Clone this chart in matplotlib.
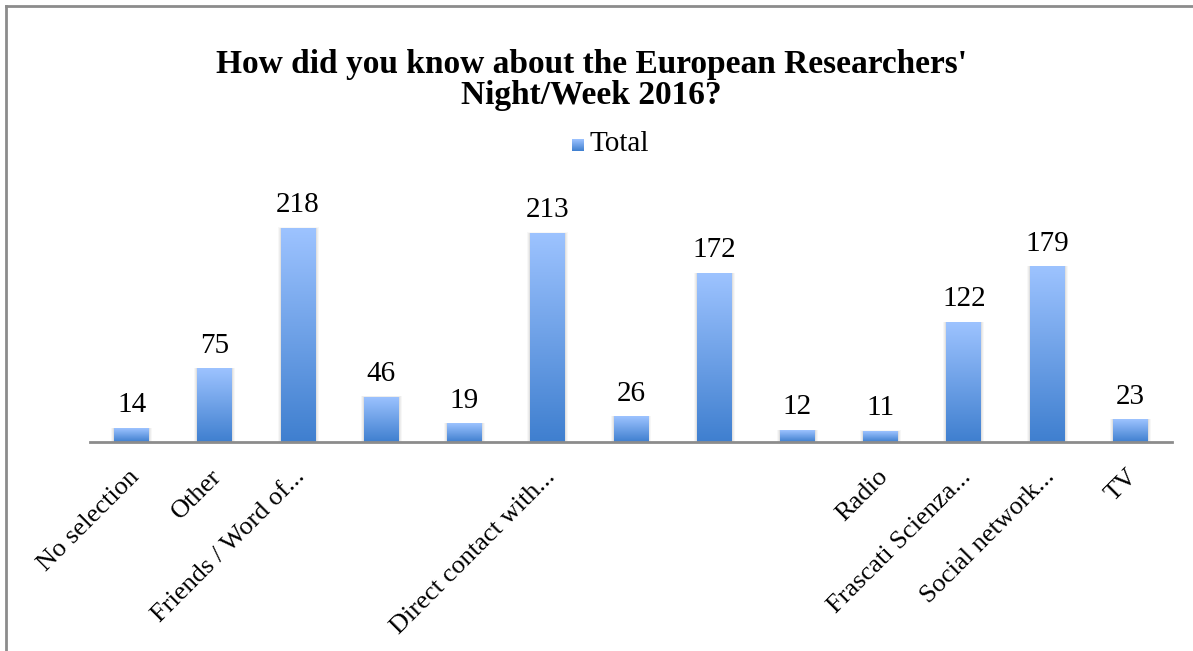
import numpy as np
import matplotlib
matplotlib.use('Agg')
import matplotlib.pyplot as plt
import matplotlib.transforms as mtransforms
from matplotlib.colors import LinearSegmentedColormap
from matplotlib.patches import Rectangle

plt.rcParams['font.family'] = ['Liberation Serif', 'DejaVu Serif']

# Survey answers (only some labels fit on the axis)
categories = ['No selection', 'Other', 'Friends / Word of...', '', '',
              'Direct contact with...', '', '', '', 'Radio',
              'Frascati Scienza...', 'Social network...', 'TV']
totals = [14, 75, 218, 46, 19, 213, 26, 172, 12, 11, 122, 179, 23]

title = "How did you know about the European Researchers'\nNight/Week 2016?"

grad = LinearSegmentedColormap.from_list('bar_grad', ['#3f7fcf', '#9dc3ff'])

fig = plt.figure(figsize=(11.93, 6.51), dpi=100)
ax = fig.add_axes([90 / 1193, 1 - 442 / 651, 1082 / 1193, 262 / 651])

x = np.arange(len(totals))
width = 0.42
ymax = 267
bars = ax.bar(x, totals, width=width, color='none', edgecolor='none', zorder=2)

# vertical gradient in every bar, light on top
g = np.linspace(0, 1, 256).reshape(-1, 1)
for b, v in zip(bars, totals):
    x0 = b.get_x()
    # soft shadow
    for k, a in enumerate([0.05, 0.04, 0.03]):
        d = 0.012 * (k + 1)
        ax.add_patch(Rectangle((x0 - d, 0), width + 2 * d, v + d * 20,
                               facecolor='black', alpha=a, edgecolor='none', zorder=1))
    im = ax.imshow(g, cmap=grad, aspect='auto', origin='lower',
                   extent=[x0, x0 + width, 0, v], zorder=3)
    im.set_clip_path(b)
    ax.text(b.get_x() + width / 2, v + 10, str(v), ha='center', va='bottom',
            fontsize=21, color='black')

ax.set_xlim(-0.5, len(totals) - 0.5)
ax.set_ylim(0, ymax)
ax.set_xticks(x)
ax.set_xticklabels(categories, rotation=45, ha='right', rotation_mode='anchor',
                   fontsize=19)
ax.tick_params(axis='x', length=0, pad=17)
shift = mtransforms.ScaledTranslation(-4 / 100, 0, fig.dpi_scale_trans)
for lbl in ax.get_xticklabels():
    lbl.set_transform(lbl.get_transform() + shift)
ax.set_yticks([])
for s in ['top', 'right', 'left']:
    ax.spines[s].set_visible(False)
ax.spines['bottom'].set_color('#8c8c8c')
ax.spines['bottom'].set_linewidth(2)
ax.spines['bottom'].set_zorder(4)

fig.text(0.496, 1 - 80 / 651, title, ha='center', va='center', fontsize=24,
         fontweight='bold', linespacing=1.0)

# legend
lax = fig.add_axes([572 / 1193, 1 - 151 / 651, 12 / 1193, 12 / 651])
lax.imshow(g, cmap=grad, aspect='auto', origin='lower')
lax.axis('off')
fig.text(589 / 1193, 1 - 144 / 651, 'Total', ha='left', va='center', fontsize=21)

# chart frame
fig.add_artist(plt.Line2D([6 / 1193, 6 / 1193], [0, 1 - 6 / 651],
                          transform=fig.transFigure, color='#8c8c8c', lw=2))
fig.add_artist(plt.Line2D([6 / 1193, 1], [1 - 6 / 651, 1 - 6 / 651],
                          transform=fig.transFigure, color='#8c8c8c', lw=2))

fig.savefig('out.png', dpi=100)
